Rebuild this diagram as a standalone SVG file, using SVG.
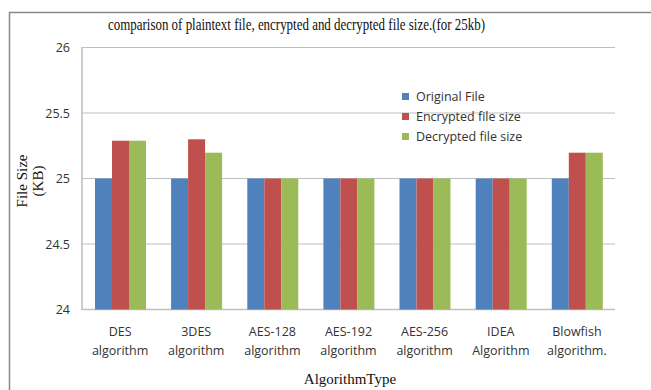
<svg xmlns="http://www.w3.org/2000/svg" width="651" height="390" viewBox="0 0 651 390">
<style>
.t{font-family:"Open Sans","Liberation Sans",sans-serif;font-size:12.5px;fill:#333}
.s{font-family:"Liberation Serif",serif;fill:#111}
.g{stroke:#bfbfbf;stroke-width:1.2;fill:none}
.b{fill:#4f81bd}.r{fill:#c0504d}.v{fill:#9bbb59}
</style>
<rect width="651" height="390" fill="#fff"/>
<path d="M9.5 390 V12.5 H651" fill="none" stroke="#888" stroke-width="1.5"/>
<text class="s" x="296.5" y="30" font-size="17" text-anchor="middle" textLength="377" lengthAdjust="spacingAndGlyphs">comparison of plaintext file, encrypted and decrypted file size.(for 25kb)</text>
<g id="grid">
<path class="g" d="M82 47.5H615M82 113H615M82 178.5H615M82 244H615"/>
<path d="M82 47V309.5H615" stroke="#bfbfbf" stroke-width="1.5" fill="none"/>
</g>
<g id="yticks" class="t" text-anchor="end">
<text x="70" y="52">26</text>
<text x="70" y="117.5">25.5</text>
<text x="70" y="183">25</text>
<text x="70" y="248.5">24.5</text>
<text x="70" y="314">24</text>
</g>
<g id="bars">
<g id="DES"><rect class="b" x="95" y="178.5" width="17" height="131"/><rect class="r" x="112" y="140.7" width="17" height="168.8"/><rect class="v" x="129" y="140.7" width="17" height="168.8"/></g>
<g id="3DES"><rect class="b" x="171.1" y="178.5" width="17" height="131"/><rect class="r" x="188.1" y="139.3" width="17" height="170.2"/><rect class="v" x="205.1" y="152.7" width="17" height="156.8"/></g>
<g id="AES128"><rect class="b" x="247.3" y="178.5" width="17" height="131"/><rect class="r" x="264.3" y="178.5" width="17" height="131"/><rect class="v" x="281.3" y="178.5" width="17" height="131"/></g>
<g id="AES192"><rect class="b" x="323.4" y="178.5" width="17" height="131"/><rect class="r" x="340.4" y="178.5" width="17" height="131"/><rect class="v" x="357.4" y="178.5" width="17" height="131"/></g>
<g id="AES256"><rect class="b" x="399.5" y="178.5" width="17" height="131"/><rect class="r" x="416.5" y="178.5" width="17" height="131"/><rect class="v" x="433.5" y="178.5" width="17" height="131"/></g>
<g id="IDEA"><rect class="b" x="475.7" y="178.5" width="17" height="131"/><rect class="r" x="492.7" y="178.5" width="17" height="131"/><rect class="v" x="509.7" y="178.5" width="17" height="131"/></g>
<g id="Blowfish"><rect class="b" x="551.8" y="178.5" width="17" height="131"/><rect class="r" x="568.8" y="152.7" width="17" height="156.8"/><rect class="v" x="585.8" y="152.7" width="17" height="156.8"/></g>
</g>
<g id="xlabels" class="t" text-anchor="middle">
<text x="120.1" y="336">DES</text><text x="120.1" y="355">algorithm</text>
<text x="196.2" y="336">3DES</text><text x="196.2" y="355">algorithm</text>
<text x="272.4" y="336">AES-128</text><text x="272.4" y="355">algorithm</text>
<text x="348.5" y="336">AES-192</text><text x="348.5" y="355">algorithm</text>
<text x="424.6" y="336">AES-256</text><text x="424.6" y="355">algorithm</text>
<text x="500.8" y="336">IDEA</text><text x="500.8" y="355">Algorithm</text>
<text x="576.9" y="336">Blowfish</text><text x="576.9" y="355">algorithm.</text>
</g>
<text class="s" x="350" y="384" font-size="15" text-anchor="middle">AlgorithmType</text>
<g id="ytitle" class="s" font-size="15" text-anchor="middle">
<text transform="translate(27 181) rotate(-90)">File Size</text>
<text transform="translate(43 181) rotate(-90)">(KB)</text>
</g>
<g id="legend" class="t">
<rect class="b" x="402" y="93" width="7" height="7"/><text x="416" y="101">Original File</text>
<rect class="r" x="402" y="113" width="7" height="7"/><text x="416" y="121">Encrypted file size</text>
<rect class="v" x="402" y="133" width="7" height="7"/><text x="416" y="141">Decrypted file size</text>
</g>
</svg>
